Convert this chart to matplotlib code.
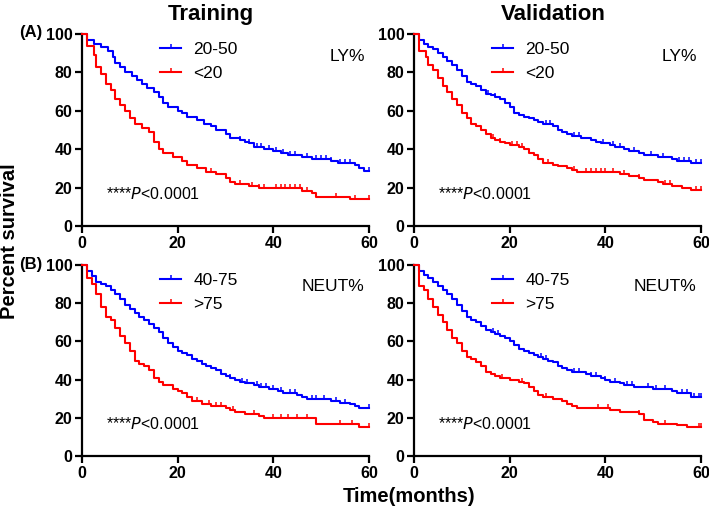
import numpy as np
import matplotlib
matplotlib.use("Agg")
import matplotlib.pyplot as plt
from matplotlib.lines import Line2D

plt.rcParams['font.family'] = ['Liberation Sans', 'DejaVu Sans']

# ---------------- data (time in months, survival in %) ----------------
# Panel A training, LY%
trA_blue_t = [0, 1, 2.5, 4, 5.5, 6.5, 7, 8, 9, 10.5, 11.5, 12.5, 13.5, 15, 16, 17, 18, 20, 21, 22, 24, 25.5, 27, 28, 30, 31, 33, 34, 35, 36, 38, 40, 41.5, 43, 46, 48, 52, 53.5, 57, 58, 59]
trA_blue_s = [100, 97, 95, 93, 91, 88, 85, 83, 80, 78, 76, 74, 72, 70, 67, 64, 62, 60, 59, 57, 55, 53, 52, 50, 48, 46, 45, 44, 43, 41, 40, 39, 38, 37, 36, 35, 34, 33, 32, 30, 28.5]
trA_blue_c = [33, 35, 36.5, 37.5, 39, 40.5, 42, 43.5, 44.5, 47, 49, 50, 51, 52, 54, 55, 56, 60]
trA_red_t = [0, 1, 2.5, 3, 4, 5, 6, 7, 8, 9, 10, 11, 12.5, 14, 15, 16, 17, 19, 21, 22, 24, 26, 28, 30, 31, 32, 35, 37, 46, 48, 49, 56]
trA_red_s = [100, 94, 89, 83, 79, 74, 71, 66, 63, 60, 56, 53, 51, 49, 44, 40, 38, 36, 34, 32, 30, 28, 27, 25, 23, 22, 21, 20, 18, 17, 15, 14]
trA_red_c = [24, 27, 33, 35.5, 37, 38, 40.5, 41.5, 42.5, 43.5, 44.5, 45.5, 47, 53, 57, 60]

# Panel A validation, LY%
vaA_blue_t = [0, 1, 2, 3, 4, 5, 6, 7, 8, 9, 10, 11, 12, 13, 14, 15, 16, 17, 18, 19, 20, 21, 22, 23, 24, 25, 26, 27, 29, 30, 31, 32, 33, 35, 37, 38, 39, 41, 42, 44, 45, 47, 48, 51, 54, 55, 58]
vaA_blue_s = [100, 97, 95, 93, 92, 90, 88, 86, 84, 81, 78, 75, 74, 73, 71, 69, 68, 67, 66, 64, 62, 59, 58, 57, 56, 55, 54, 53, 52, 50, 49, 48, 47, 46, 45, 44, 43, 42, 41, 40, 39, 38, 37, 36, 35, 34, 33]
vaA_blue_c = [15.5, 17, 19, 27.5, 28.5, 33.5, 34.5, 39.5, 41.5, 43, 46, 49.5, 52, 55.5, 56.5, 57.5, 59, 60]
vaA_red_t = [0, 1, 2.5, 3, 4, 5, 6, 7, 8, 9, 10, 11, 12, 13, 14, 15, 16, 17, 18, 19, 20, 22, 23, 24, 25, 26, 27, 29, 30, 32, 33, 34, 43, 45, 47, 48, 51, 52, 54, 56, 58]
vaA_red_s = [100, 91, 88, 84, 81, 77, 73, 70, 66, 63, 59, 56, 53, 52, 50, 48, 46, 45, 44, 43, 42, 41, 40, 38, 37, 35, 33, 32, 31, 30, 29, 28, 27, 26, 25, 24, 23, 22, 21, 20, 19]
vaA_red_c = [16.5, 18, 20.5, 21.5, 22.5, 28, 33.5, 36, 37, 38, 39, 40, 41.5, 44, 47, 52.5, 53.5, 59, 60]

# Panel B training, NEUT%
trB_blue_t = [0, 1, 2, 3, 4, 5, 6, 7, 8, 9, 10, 11, 12, 13, 14, 15, 16, 17, 18, 19, 20, 21, 22, 23, 24, 25, 26, 27, 28, 29, 30, 31, 32, 33, 34, 36, 37, 39, 41, 42, 45, 46, 47, 52, 54, 56, 57, 58]
trB_blue_s = [100, 97, 94, 91, 90, 89, 87, 85, 82, 79, 77, 75, 73, 71, 69, 67, 65, 62, 59, 57, 55, 54, 53, 51, 50, 48, 47, 46, 45, 43, 42, 41, 40, 39, 38, 37, 36, 35, 34, 33, 32, 31, 30, 29, 28, 27, 26, 25]
trB_blue_c = [20, 25, 31, 33.5, 34.5, 36.5, 37.5, 38.5, 40, 41.5, 43.5, 44.5, 48, 49, 50.5, 53, 55, 60]
trB_red_t = [0, 1, 2, 3, 4, 5, 6, 7, 8, 9, 10, 11, 12, 13, 14, 15, 16, 17, 19, 20, 21, 22, 23, 25, 27, 30, 31, 32, 34, 37, 38, 49, 58]
trB_red_s = [100, 93, 90, 85, 78, 73, 71, 67, 63, 59, 55, 50, 48, 47, 45, 41, 39, 37, 35, 34, 33, 31, 29, 27, 26, 25, 24, 23, 22, 21, 20, 17, 15]
trB_red_c = [24, 26.5, 28, 29, 31.5, 36, 40, 41.5, 43, 45, 47, 54, 56.5, 60]

# Panel B validation, NEUT%
vaB_blue_t = [0, 1, 2, 3, 4, 5, 6, 7, 8, 9, 10, 11, 12, 13, 14, 15, 16, 17, 18, 19, 20, 21, 22, 23, 24, 25, 26, 27, 28, 29, 30, 31, 32, 33, 36, 37, 39, 40, 41, 43, 44, 46, 50, 54, 55, 58]
vaB_blue_s = [100, 97, 95, 93, 91, 89, 87, 85, 82, 79, 76, 73, 71, 70, 68, 66, 65, 64, 63, 62, 60, 58, 56, 55, 54, 53, 52, 51, 50, 49, 47, 46, 45, 44, 43, 42, 41, 40, 39, 38, 37, 36, 35, 34, 33, 31]
vaB_blue_c = [16.5, 17.5, 26.5, 27.5, 33.5, 34.5, 37, 38, 40, 42, 44.5, 45.5, 49, 50.5, 52.5, 56, 57, 58.5, 59.5, 60]
vaB_red_t = [0, 1, 2, 3, 4, 5, 6, 7, 8, 9, 10, 11, 12, 13, 14, 15, 16, 17, 18, 20, 22, 23, 24, 25, 26, 27, 29, 31, 32, 33, 34, 41, 43, 47, 48, 50, 51, 55, 57]
vaB_red_s = [100, 89, 87, 82, 78, 74, 70, 66, 62, 59, 55, 52, 51, 49, 47, 44, 43, 42, 41, 40, 39, 38, 36, 34, 32, 31, 30, 29, 27, 26, 25, 24, 23, 22, 19, 18, 17, 16, 15]
vaB_red_c = [18.5, 22.5, 27.5, 38.5, 40.5, 47, 52.5, 59.5, 60]

panels = [
    dict(pos=(82, 34, 369, 226), blue=(trA_blue_t, trA_blue_s, trA_blue_c), red=(trA_red_t, trA_red_s, trA_red_c),
         labels=["20-50", "<20"], var="LY%"),
    dict(pos=(414, 34, 701, 226), blue=(vaA_blue_t, vaA_blue_s, vaA_blue_c), red=(vaA_red_t, vaA_red_s, vaA_red_c),
         labels=["20-50", "<20"], var="LY%"),
    dict(pos=(82, 265, 369, 456), blue=(trB_blue_t, trB_blue_s, trB_blue_c), red=(trB_red_t, trB_red_s, trB_red_c),
         labels=["40-75", ">75"], var="NEUT%"),
    dict(pos=(414, 265, 701, 456), blue=(vaB_blue_t, vaB_blue_s, vaB_blue_c), red=(vaB_red_t, vaB_red_s, vaB_red_c),
         labels=["40-75", ">75"], var="NEUT%"),
]

W, H = 709, 513
fig = plt.figure(figsize=(W / 100, H / 100), dpi=100)

BLUE = '#0000FF'
RED = '#FF0000'

def draw_curve(ax, t, s, c, color):
    t = np.asarray(t, float)
    s = np.asarray(s, float)
    tt = np.append(t, 60)
    ss = np.append(s, s[-1])
    ax.step(tt, ss, where='post', color=color, lw=1.5, clip_on=False, zorder=3)
    c = np.asarray(c, float)
    idx = np.searchsorted(t, c, side='right') - 1
    ax.plot(c, s[idx], linestyle='none', marker=2, markersize=3, markeredgewidth=1.1,
            color=color, clip_on=False, zorder=3)

for p in panels:
    x0, y0, x1, y1 = p['pos']
    ax = fig.add_axes([x0 / W, 1 - y1 / H, (x1 - x0) / W, (y1 - y0) / H])
    draw_curve(ax, *p['blue'], BLUE)
    draw_curve(ax, *p['red'], RED)
    ax.set_xlim(0, 60)
    ax.set_ylim(0, 100)
    ax.set_xticks([0, 20, 40, 60])
    ax.set_yticks([0, 20, 40, 60, 80, 100])
    for sp in ['top', 'right']:
        ax.spines[sp].set_visible(False)
    for sp in ['left', 'bottom']:
        ax.spines[sp].set_linewidth(1.6)
    ax.tick_params(width=1.6, length=5, labelsize=11.5, pad=2)
    for lab in ax.get_xticklabels() + ax.get_yticklabels():
        lab.set_fontweight('bold')
    handles = [Line2D([], [], color=BLUE, lw=1.5, marker=2, markersize=3, markeredgewidth=1.1),
               Line2D([], [], color=RED, lw=1.5, marker=2, markersize=3, markeredgewidth=1.1)]
    ax.legend(handles, p['labels'], loc='upper left', bbox_to_anchor=(0.219, 1.04), frameon=False,
              fontsize=12.5, handlelength=1.2, handletextpad=0.7, labelspacing=0.5, numpoints=1)
    ax.text(0.985, 0.885, p['var'], transform=ax.transAxes, ha='right', va='center', fontsize=12.5)
    ax.text(0.085, 0.165, r'****$\it{P}$<0.0001', transform=ax.transAxes, ha='left', va='center', fontsize=11.5)

fig.text(211 / W, 1 - 15 / H, 'Training', ha='center', va='center', fontsize=16, fontweight='bold')
fig.text(553 / W, 1 - 15 / H, 'Validation', ha='center', va='center', fontsize=16, fontweight='bold')
fig.text(31 / W, 1 - 32 / H, '(A)', ha='center', va='center', fontsize=12, fontweight='bold')
fig.text(31 / W, 1 - 264 / H, '(B)', ha='center', va='center', fontsize=12, fontweight='bold')
fig.text(10 / W, 1 - 241 / H, 'Percent survival', ha='center', va='center', rotation=90, fontsize=14.5, fontweight='bold')
fig.text(409 / W, 1 - 497 / H, 'Time(months)', ha='center', va='center', fontsize=14.5, fontweight='bold')

fig.savefig('out.png', dpi=100)
